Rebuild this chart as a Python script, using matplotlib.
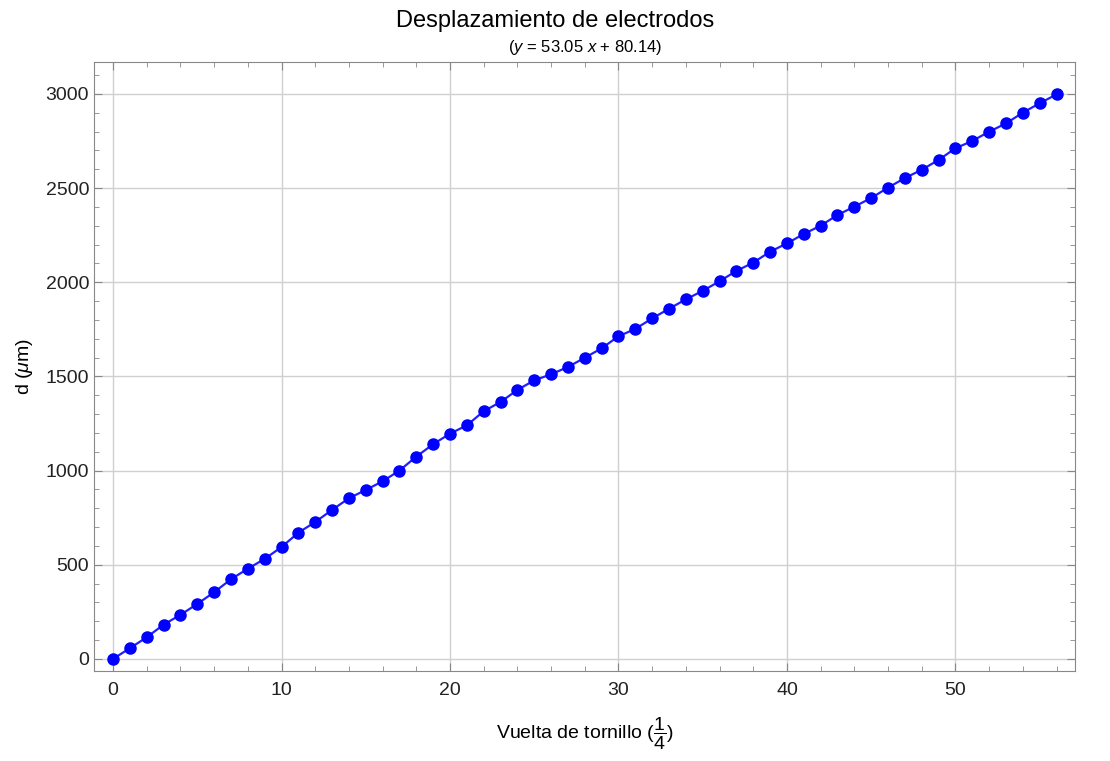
import matplotlib
matplotlib.use("Agg")
import matplotlib.pyplot as plt
from matplotlib.ticker import MultipleLocator

plt.rcParams['font.family'] = ['Liberation Sans', 'DejaVu Sans']
plt.rcParams['mathtext.fontset'] = 'custom'
plt.rcParams['mathtext.rm'] = 'Liberation Sans'
plt.rcParams['mathtext.it'] = 'Liberation Sans:italic'

# vueltas (1/4) y desplazamiento en micras
vueltas = list(range(57))
desplazamiento = [0, 57, 115, 182, 234, 292, 354, 423, 479, 531,
                  594, 670, 727, 791, 853, 897, 943, 1000, 1074, 1140,
                  1196, 1240, 1315, 1364, 1428, 1479, 1511, 1550, 1599, 1649,
                  1713, 1752, 1808, 1859, 1909, 1954, 2005, 2060, 2104, 2162,
                  2206, 2256, 2300, 2357, 2401, 2447, 2502, 2553, 2597, 2649,
                  2711, 2750, 2799, 2843, 2900, 2950, 2997]

fig = plt.figure(figsize=(11.1, 7.61), dpi=100)
ax = fig.add_axes([0.0847, 0.1183, 0.8838, 0.8002])

ax.plot(vueltas, desplazamiento, color='#2020ff', linewidth=1.6,
        marker='o', markersize=8, markerfacecolor='blue', markeredgecolor='blue')

ax.set_xlim(-1.13, 57.1)
ax.set_ylim(-64, 3169)

ax.xaxis.set_major_locator(MultipleLocator(10))
ax.xaxis.set_minor_locator(MultipleLocator(2))
ax.yaxis.set_major_locator(MultipleLocator(500))
ax.yaxis.set_minor_locator(MultipleLocator(100))
ax.tick_params(which='both', direction='in', top=True, right=True,
               color='#888888', labelsize=14, labelcolor='#222222')
ax.tick_params(which='major', length=6, width=0.8)
ax.tick_params(which='minor', length=3.5, width=0.6)
ax.tick_params(axis='x', pad=8)
ax.grid(True, which='major', color='#d0d0d0', linewidth=1.0)
for s in ax.spines.values():
    s.set_color('#888888')

ax.set_xlabel(r'Vuelta de tornillo $(\dfrac{1}{4})$', fontsize=14, labelpad=12)
ax.set_ylabel(r'd ($\mu$m)', fontsize=14, labelpad=8)

fig.text(0.5, 0.972, 'Desplazamiento de electrodos', ha='center', va='center', fontsize=17)
fig.text(0.527, 0.938, r'($y$ = 53.05 $x$ + 80.14)', ha='center', va='center', fontsize=12)

plt.savefig('out.png', dpi=100)
